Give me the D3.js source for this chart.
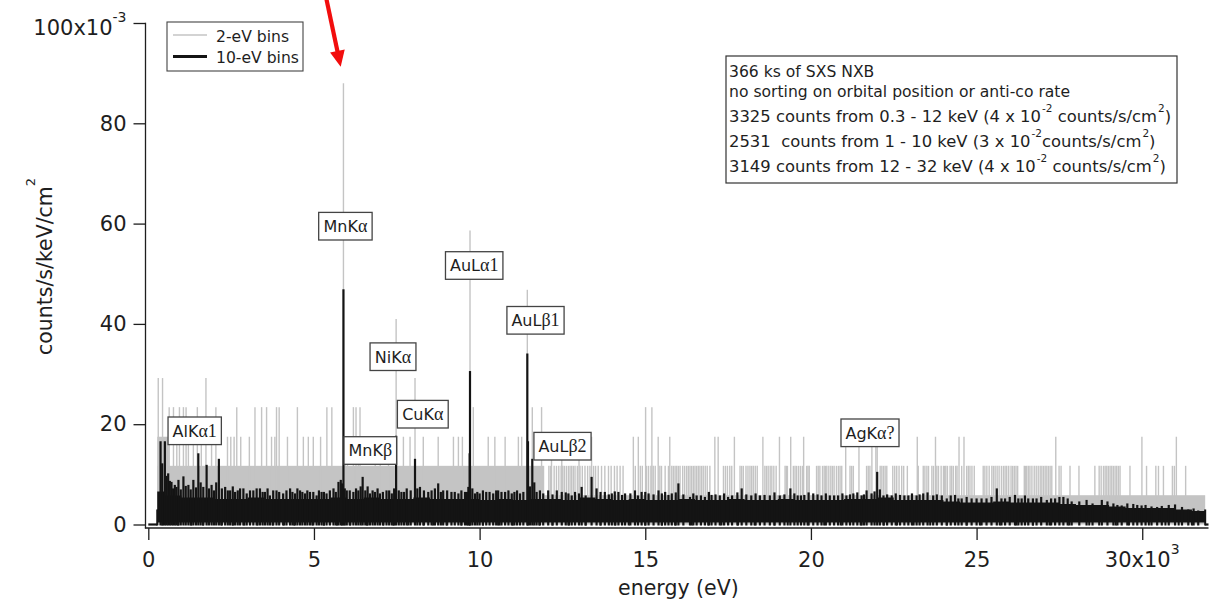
<!DOCTYPE html>
<html><head><meta charset="utf-8">
<script src="https://cdn.jsdelivr.net/npm/d3@7"></script>
<style>
html,body{margin:0;padding:0;background:#fff;}
svg{display:block;font-family:"DejaVu Sans",sans-serif;}
text{white-space:pre;}
</style></head><body>
<svg id="chart" width="1215" height="603"></svg>
<script>
// ================= DATA (energy in keV, rate in 1e-3 counts/s/keV/cm2) =================
const xTicks = [0, 5, 10, 15, 20, 25, 30];
const yTicks = [0, 20, 40, 60, 80, 100];
const seriesNames = ["2-eV bins", "10-eV bins"];

// 2-eV bins: continuum levels (start keV, end keV, rate)
const grayBands = [[0.27, 0.62, 17.5], [0.27, 11.95, 11.7], [11.95, 31.9, 5.84]];
// 2-eV bins rising above the continuum (keV, rate)
const graySpikes = [
 [0.30,29.2],[0.43,29.2],[0.63,23.4],[0.76,23.4],[0.86,17.5],[0.94,23.4],[1.06,23.4],[1.14,23.4],[1.21,17.5],[1.36,17.5],
 [1.48,23.4],[1.60,17.5],[1.74,29.2],[1.91,17.5],[2.04,23.4],[2.39,17.5],[2.49,17.5],[2.59,17.5],[2.67,23.4],[2.79,17.5],
 [3.05,17.5],[3.22,23.4],[3.42,23.4],[3.57,23.4],[3.72,17.5],[3.82,17.5],[3.87,23.4],[3.95,23.4],[4.20,17.5],[4.50,23.4],
 [4.68,17.5],[4.83,17.5],[4.98,17.5],[5.20,17.5],[5.39,23.4],[5.54,23.4],[5.89,88.0],[5.94,17.5],[6.01,17.5],[6.19,23.4],
 [6.27,23.4],[6.34,17.5],[6.39,23.4],[6.85,17.5],[7.00,17.5],[7.25,17.5],[7.48,41.0],[7.70,17.5],[7.90,17.5],[8.05,29.2],
 [8.30,17.5],[8.75,17.5],[9.21,17.5],[9.36,17.5],[9.48,17.5],[9.71,58.6],[9.81,23.4],[10.26,17.5],[10.46,17.5],[10.77,17.5],
 [11.17,17.5],[11.27,17.5],[11.44,46.8],[11.59,23.4],[11.87,23.4],
 [12.17,17.5],[12.48,17.5],[13.00,17.5],[13.38,17.5],[14.64,17.5],[14.79,17.5],[15.01,23.4],[15.20,23.4],[15.39,17.5],[15.74,17.5],
 [17.10,17.5],[17.20,17.5],[17.69,17.5],[18.55,17.5],[19.05,17.5],[19.39,17.5],[19.78,17.5],[21.05,17.5],[21.45,17.5],[21.84,17.5],
 [21.96,17.5],[22.00,17.5],[23.21,17.5],[23.76,17.5],[24.47,17.5],[24.62,17.5],[27.39,17.5],[29.99,17.5],[31.03,17.5]
];
// 2-eV bins at two counts (rate 11.7) above 12 keV
const grayTwoCountRate = 11.7;
const grayTwoCountE = [
 12.09,12.14,12.25,12.32,12.39,12.46,12.51,12.56,12.62,12.68,12.73,12.78,12.83,12.88,12.95,13.03,13.10,13.18,13.26,13.33,
 13.44,13.50,13.58,13.68,13.78,13.89,13.97,14.07,14.15,14.24,14.33,14.70,14.85,14.91,15.04,15.10,15.17,15.24,15.30,15.44,
 15.49,15.60,15.70,15.80,15.85,15.90,15.95,16.00,16.05,16.13,16.19,16.25,16.30,16.35,16.40,16.45,16.50,16.55,16.60,16.65,
 16.70,16.75,16.81,16.87,16.95,17.36,17.42,17.48,17.55,17.61,17.86,17.91,17.96,18.04,18.10,18.16,18.21,18.26,18.32,18.38,
 18.61,18.66,18.71,18.77,18.82,18.88,18.95,19.22,19.26,19.29,19.47,19.52,19.57,19.63,19.69,19.75,19.87,19.91,19.95,20.17,
 20.22,20.27,20.35,20.40,20.44,20.48,20.54,20.60,20.65,20.70,20.77,20.83,20.88,20.93,21.18,21.23,21.28,21.68,21.73,21.78,
 22.09,22.14,22.19,22.24,22.29,22.47,22.53,22.59,22.66,22.74,22.80,22.91,23.24,23.39,23.44,23.50,23.55,23.65,23.70,23.80,
 23.85,23.93,24.00,24.03,24.07,24.12,24.20,24.25,24.30,24.37,24.41,24.55,24.70,24.75,24.80,24.86,24.93,25.20,25.25,25.31,
 25.38,25.46,25.51,25.56,25.62,25.68,25.75,25.81,25.86,25.91,25.97,26.04,26.09,26.14,26.19,26.24,26.44,26.48,26.51,26.56,
 26.61,26.67,26.74,26.80,26.86,26.92,26.97,27.02,27.07,27.12,27.17,27.22,27.27,27.49,27.55,27.82,28.09,28.57,28.70,28.76,
 28.83,28.88,28.93,28.98,29.03,29.08,29.13,29.18,29.23,29.28,29.33,29.63,30.13,30.41,30.49,30.64,30.91,30.97,31.31
];

// 10-eV bins: typical floor and upper envelope of the dense band, per 0.5 keV
const blackStart = 0.27, blackEnd = 31.9, blackFloor = 0.6;
const blackBandTop = [
 6.4,5.6,5.2,5.2,4.9,4.9,5.2,4.9,4.9,4.9, 4.9,5.2,4.9,5.2,4.9,4.9,5.2,4.9,4.9,4.9,
 4.7,4.9,4.7,4.9,4.9,4.7,5.2,4.9,4.7,4.9, 4.7,4.7,4.9,4.7,4.7,4.9,4.7,4.7,4.9,4.7,
 4.7,4.7,4.9,4.9,5.2,4.7,4.7,4.7,4.4,4.2, 4.2,4.4,4.2,4.2,4.2,3.9,3.7,3.7,3.4,3.1,
 3.1,3.1,2.8,2.5
];
// 10-eV bins rising above the band (keV, rate)
const blackSpikes = [
 [0.37,16.4],[0.42,12.0],[0.50,16.4],[0.55,9.5],[0.60,10.0],[0.65,8.5],[0.70,8.3],[0.75,7.0],[0.80,7.7],[0.85,7.3],
 [0.91,8.7],[0.98,6.8],[1.06,9.4],[1.13,7.5],[1.21,7.7],[1.28,6.8],[1.36,8.7],[1.44,7.2],[1.51,14.0],[1.58,8.2],
 [1.66,7.3],[1.76,11.7],[1.83,7.0],[1.91,7.7],[1.98,6.6],[2.05,8.2],[2.13,12.9],[2.22,7.0],[2.32,7.3],[2.40,6.6],
 [2.47,6.6],[2.55,7.4],[2.62,6.3],[2.70,6.6],[2.77,7.0],[2.87,7.0],[2.97,6.0],[3.07,6.6],[3.17,6.6],[3.27,7.0],
 [3.37,7.0],[3.45,6.3],[3.52,6.3],[3.60,7.0],[3.67,5.6],[3.77,6.6],[3.87,6.6],[3.95,6.3],[4.07,6.0],[4.17,6.6],
 [4.28,7.0],[4.35,6.3],[4.43,6.0],[4.50,7.0],[4.58,6.6],[4.65,6.3],[4.73,6.0],[4.80,6.6],[4.88,6.3],[4.98,6.3],
 [5.08,5.6],[5.15,6.6],[5.23,6.3],[5.30,6.3],[5.38,6.0],[5.48,6.6],[5.59,7.0],[5.66,6.3],[5.74,8.3],[5.81,8.7],
 [5.85,8.0],[5.89,46.7],[5.93,7.0],[5.99,6.6],[6.08,6.6],[6.19,6.3],[6.27,7.0],[6.34,6.6],[6.41,7.4],[6.47,9.3],
 [6.55,6.6],[6.62,7.4],[6.69,6.0],[6.77,6.6],[6.84,6.3],[6.92,7.0],[6.99,6.0],[7.08,6.3],[7.19,6.6],[7.27,6.6],
 [7.35,6.0],[7.42,7.0],[7.48,17.5],[7.56,6.6],[7.64,6.3],[7.72,6.3],[7.80,7.0],[7.92,6.6],[8.05,12.9],[8.12,7.0],
 [8.20,7.3],[8.32,6.6],[8.45,6.3],[8.55,6.6],[8.65,7.0],[8.75,8.0],[8.83,6.3],[8.90,6.6],[9.02,6.6],[9.15,6.3],
 [9.25,6.3],[9.36,6.0],[9.45,6.6],[9.56,6.3],[9.62,6.3],[9.66,7.3],[9.70,14.0],[9.71,30.4],[9.78,7.0],[9.86,6.0],
 [9.93,6.3],[10.00,6.0],[10.10,6.6],[10.20,6.3],[10.30,6.3],[10.41,6.0],[10.50,6.6],[10.56,6.6],[10.66,6.3],[10.77,6.3],
 [10.87,6.6],[10.97,6.0],[11.05,6.3],[11.13,6.6],[11.22,6.0],[11.32,6.3],[11.44,33.9],[11.46,16.4],[11.52,7.4],[11.59,12.9],
 [11.65,8.2],[11.72,6.3],[11.82,6.6],[11.92,6.0],[12.07,6.6],[12.20,5.8],[12.33,6.6],[12.48,6.3],[12.60,6.2],[12.68,6.0],
 [12.78,5.6],[12.88,6.3],[13.00,6.0],[13.08,7.3],[13.20,5.6],[13.38,9.3],[13.53,7.0],[13.65,6.3],[13.78,6.3],[13.90,5.8],
 [13.99,6.0],[14.08,6.4],[14.19,6.3],[14.30,5.7],[14.39,6.0],[14.55,6.0],[14.69,6.6],[14.78,5.6],[14.89,6.3],[15.00,6.3],
 [15.10,6.0],[15.25,5.8],[15.40,6.6],[15.50,6.0],[15.60,6.3],[15.70,5.7],[15.80,6.0],[15.92,6.2],[16.00,8.0],[16.15,5.8],
 [16.35,5.3],[16.45,6.0],[16.55,5.6],[16.68,5.6],[16.80,5.3],[16.92,6.3],[17.00,5.7],[17.12,5.8],[17.25,5.6],[17.38,6.0],
 [17.50,5.3],[17.62,5.6],[17.78,6.2],[17.91,7.0],[18.05,5.8],[18.20,5.6],[18.33,6.0],[18.46,5.6],[18.60,5.7],[18.76,5.6],
 [18.90,6.2],[19.06,5.6],[19.20,5.8],[19.38,7.0],[19.50,6.0],[19.60,5.6],[19.70,5.6],[19.80,5.7],[19.93,6.2],[20.07,6.0],
 [20.20,5.8],[20.32,5.6],[20.45,6.0],[20.57,5.6],[20.70,5.6],[20.82,5.6],[20.95,6.0],[21.07,5.6],[21.18,5.8],[21.28,6.0],
 [21.40,6.2],[21.53,5.6],[21.60,5.8],[21.68,6.6],[21.83,6.0],[21.92,6.4],[22.00,10.3],[22.08,6.8],[22.19,5.6],[22.30,5.8],
 [22.44,5.6],[22.56,6.0],[22.69,5.7],[22.82,5.6],[22.94,5.6],[23.05,6.0],[23.19,5.6],[23.28,5.8],[23.39,6.0],[23.52,6.2],
 [23.69,5.6],[23.80,5.8],[23.95,5.6],[24.10,5.0],[24.22,5.6],[24.35,5.7],[24.45,5.0],[24.55,5.0],[24.70,5.3],[24.85,5.0],
 [25.00,5.0],[25.15,5.0],[25.30,5.0],[25.45,5.3],[25.61,7.0],[25.75,5.0],[25.86,5.0],[26.00,5.3],[26.16,5.7],[26.26,5.0],
 [26.36,5.0],[26.46,5.6],[26.56,5.0],[26.70,5.0],[26.81,5.0],[26.95,5.3],[27.12,4.7],[27.25,5.0],[27.37,5.0],[27.50,5.3],
 [27.62,5.3],[27.75,5.0],[27.87,4.4],[28.10,4.4],[28.32,4.7],[28.50,4.0],[28.78,4.7],[28.95,4.4],[29.13,4.0],[29.25,3.7],
 [29.38,3.6],[29.55,4.0],[29.73,3.9],[29.85,3.7],[29.98,3.6],[30.10,3.7],[30.28,3.4],[30.45,3.3],[30.59,3.5],[30.80,3.7],
 [30.99,3.8],[31.20,3.3],[31.39,2.8],[31.55,3.0],[31.69,2.6]
];
// 10-eV bins that drop to zero counts (keV)
const blackZeroE = [
 0.45,0.90,1.30,1.65,2.20,2.55,2.90,3.30,3.75,4.10,4.40,4.95,5.30,5.70,6.10,6.60,7.10,7.40,7.85,8.30,
 8.60,9.00,9.45,10.10,10.60,11.00,11.80,12.20,12.70,13.20,13.65,14.10,14.50,15.00,15.50,15.90,16.40,16.90,17.30,17.80,
 18.30,18.90,19.30,19.90,20.40,20.90,21.50,22.20,22.60,23.10,23.60,24.10,24.70,25.10,25.70,26.20,26.70,27.20,27.80,28.40,
 28.70,29.20,29.60,30.20,30.70,31.10,31.50
];

// Line identifications (name parts, energy keV)
const peakNames = [["MnK","α",""],["AuL","α","1"],["AuL","β","1"],["AuL","β","2"],["CuK","α",""],["NiK","α",""],["MnK","β",""],["AlK","α","1"],["AgK","α","?"]];
const peakEnergies = [5.89, 9.71, 11.44, 11.59, 8.05, 7.48, 6.49, 1.49, 22.1];

const noteLines = [
 [["366 ks of SXS NXB"]],
 [["no sorting on orbital position or anti-co rate"]],
 [["3325 counts from 0.3 - 12 keV (4 x 10"],["-2",1],[" counts/s/cm"],["2",1],[")"]],
 [["2531  counts from 1 - 10 keV (3 x 10"],["-2",1],["counts/s/cm"],["2",1],[")"]],
 [["3149 counts from 12 - 32 keV (4 x 10"],["-2",1],[" counts/s/cm"],["2",1],[")"]]
];

// ================= LAYOUT / STYLE =================
const GRAY = "#c4c4c4", BLACK = "#141414", INK = "#1e1e1e";
const labelCenters = [[345.4,226.2],[474.2,265.5],[535.5,320.3],[562.5,446.2],[422.8,414.2],[393,356.7],[370.3,450.5],[194.7,430.8],[870,432.8]];

const svg = d3.select("#chart");
const x = d3.scaleLinear().domain([0, 32]).range([148.3, 1208.5]);
const y = d3.scaleLinear().domain([0, 100]).range([524.5, 23]);

const plot = svg.append("g");

// ---- gray (2-eV) series ----
plot.selectAll("rect.gband").data(grayBands).join("rect").attr("class","gband")
  .attr("x", d => x(d[0])).attr("width", d => x(d[1]) - x(d[0]))
  .attr("y", d => y(d[2])).attr("height", d => y(0) - y(d[2]))
  .attr("fill", GRAY);
const grayAll = graySpikes.concat(grayTwoCountE.map(e => [e, grayTwoCountRate]));
plot.selectAll("line.gspike").data(grayAll).join("line").attr("class","gspike")
  .attr("x1", d => x(d[0])).attr("x2", d => x(d[0]))
  .attr("y1", y(0)).attr("y2", d => y(d[1]))
  .attr("stroke", GRAY).attr("stroke-width", 1.4);

// ---- black (10-eV) series ----
const bandPts = blackBandTop.map((v, i) => ({e: Math.max(i * 0.5, blackStart), v}));
bandPts.push({e: blackEnd, v: blackBandTop[blackBandTop.length - 1]});
const bandArea = d3.area().curve(d3.curveStepAfter)
  .x(d => x(d.e)).y0(y(blackFloor) + 1).y1(d => y(d.v) - 1);
plot.append("path").datum(bandPts).attr("d", bandArea).attr("fill", BLACK);

plot.append("line").attr("x1", x(0)).attr("x2", x(blackStart)).attr("y1", y(0)).attr("y2", y(0))
  .attr("stroke", BLACK).attr("stroke-width", 2.2);
plot.append("line").attr("x1", x(blackEnd)).attr("x2", x(32)).attr("y1", y(0)).attr("y2", y(0))
  .attr("stroke", BLACK).attr("stroke-width", 2.2);
plot.selectAll("line.bzero").data(blackZeroE).join("line").attr("class","bzero")
  .attr("x1", d => x(d)).attr("x2", d => x(d))
  .attr("y1", y(0) + 1).attr("y2", y(blackFloor))
  .attr("stroke", BLACK).attr("stroke-width", 2);
[blackStart, blackEnd].forEach(e => plot.append("line").attr("x1", x(e)).attr("x2", x(e))
  .attr("y1", y(0) + 1).attr("y2", y(3)).attr("stroke", BLACK).attr("stroke-width", 2));
plot.selectAll("line.bspike").data(blackSpikes).join("line").attr("class","bspike")
  .attr("x1", d => x(d[0])).attr("x2", d => x(d[0]))
  .attr("y1", y(0) + 1).attr("y2", d => y(d[1]) - 1)
  .attr("stroke", BLACK).attr("stroke-width", 2.2);

// ---- axes ----
const yAxis = d3.axisLeft(y).tickValues(yTicks).tickSize(12).tickPadding(7)
  .tickFormat(d => d === 100 ? "" : d);
const gy = svg.append("g").attr("transform", "translate(145.5,0)").call(yAxis);
gy.select(".domain").remove();
gy.selectAll(".tick line").attr("stroke", INK).attr("stroke-width", 1.3);
gy.selectAll(".tick text").attr("font-size", 21).attr("fill", INK).attr("font-family", "DejaVu Sans");
const t100 = svg.append("text").attr("x", 126.5).attr("y", 34.5).attr("text-anchor", "end")
  .attr("font-size", 21).attr("fill", INK);
t100.append("tspan").text("100x10");
t100.append("tspan").attr("font-size", 14).attr("dy", -13).text("-3");

const xAxis = d3.axisBottom(x).tickValues(xTicks).tickSize(12).tickPadding(12)
  .tickFormat(d => d === 30 ? "" : d);
const gx = svg.append("g").attr("transform", "translate(0,528)").call(xAxis);
gx.select(".domain").remove();
gx.selectAll(".tick line").attr("stroke", INK).attr("stroke-width", 1.3);
gx.selectAll(".tick text").attr("font-size", 21).attr("fill", INK).attr("font-family", "DejaVu Sans");
const t30 = svg.append("text").attr("x", x(30)).attr("y", 567).attr("text-anchor", "middle")
  .attr("font-size", 21).attr("fill", INK);
t30.append("tspan").text("30x10");
t30.append("tspan").attr("font-size", 14).attr("dy", -13).text("3");

svg.append("line").attr("x1", 145.5).attr("x2", 145.5).attr("y1", 22.7).attr("y2", 528.6)
  .attr("stroke", INK).attr("stroke-width", 1.3);
svg.append("line").attr("x1", 144.9).attr("x2", x(32)).attr("y1", 528).attr("y2", 528)
  .attr("stroke", INK).attr("stroke-width", 1.3);

// axis titles
svg.append("text").attr("x", x(16)).attr("y", 595).attr("text-anchor", "middle")
  .attr("font-size", 20.5).attr("fill", INK).text("energy (eV)");
const yt = svg.append("text").attr("transform", "translate(51.5,266.5) rotate(-90)")
  .attr("text-anchor", "middle").attr("font-size", 20.5).attr("fill", INK);
yt.append("tspan").text("counts/s/keV/cm");
yt.append("tspan").attr("font-size", 13).attr("dy", -17).text("2");

// ---- legend ----
const lg = svg.append("g");
lg.append("rect").attr("x", 167).attr("y", 22).attr("width", 136).attr("height", 49)
  .attr("fill", "#fff").attr("stroke", "#444").attr("stroke-width", 1.1);
lg.append("line").attr("x1", 173).attr("x2", 207).attr("y1", 35).attr("y2", 35).attr("stroke", GRAY).attr("stroke-width", 1.3);
lg.append("line").attr("x1", 173).attr("x2", 207).attr("y1", 56.5).attr("y2", 56.5).attr("stroke", BLACK).attr("stroke-width", 3);
lg.append("text").attr("x", 216).attr("y", 41.5).attr("font-size", 15.6).attr("fill", INK).text(seriesNames[0]);
lg.append("text").attr("x", 216).attr("y", 63).attr("font-size", 15.6).attr("fill", INK).text(seriesNames[1]);

// ---- note box ----
svg.append("rect").attr("x", 726).attr("y", 56).attr("width", 451).attr("height", 127)
  .attr("fill", "#fff").attr("stroke", "#333").attr("stroke-width", 1.2);
const noteBase = [76.5, 97, 121.5, 147, 172];
noteLines.forEach((parts, i) => {
  const fs = i < 2 ? 15.6 : 16.4;
  const t = svg.append("text").attr("x", 729).attr("y", noteBase[i]).attr("font-size", fs).attr("fill", INK);
  let raised = false;
  parts.forEach(p => {
    const ts = t.append("tspan").text(p[0]);
    if (p[1]) { ts.attr("font-size", 10.5).attr("dx", 1).attr("dy", raised ? 0 : -10); raised = true; }
    else if (raised) { ts.attr("dy", 10); raised = false; }
  });
});

// ---- peak labels ----
peakNames.forEach((n, i) => {
  const [cx, cy] = labelCenters[i];
  const g = svg.append("g");
  const r = g.append("rect");
  const t = g.append("text").attr("x", cx).attr("y", cy + 5.8).attr("text-anchor", "middle")
    .attr("font-size", 16).attr("fill", INK);
  t.append("tspan").text(n[0]);
  t.append("tspan").attr("font-family", "Liberation Serif, DejaVu Serif, serif").attr("font-size", 18).text(n[1] + n[2]);
  const bb = t.node().getBBox();
  r.attr("x", cx - bb.width / 2 - 4.5).attr("y", cy - 13.8).attr("width", bb.width + 9).attr("height", 27.6)
   .attr("fill", "#fff").attr("stroke", "#444").attr("stroke-width", 1.3);
  void peakEnergies[i];
});

// ---- red arrow pointing at MnKα ----
const tip = [340.7, 66.7], tail = [326.2, -2];
const dx = tip[0] - tail[0], dy = tip[1] - tail[1], L = Math.hypot(dx, dy);
const ux = dx / L, uy = dy / L, hb = [tip[0] - 16 * ux, tip[1] - 16 * uy];
svg.append("line").attr("x1", tail[0]).attr("y1", tail[1]).attr("x2", hb[0] + 2 * ux).attr("y2", hb[1] + 2 * uy)
  .attr("stroke", "#f20d0d").attr("stroke-width", 4.2);
svg.append("path").attr("d", d3.line()([tip, [hb[0] - uy * 7.5, hb[1] + ux * 7.5], [hb[0] + uy * 7.5, hb[1] - ux * 7.5]]) + "Z")
  .attr("fill", "#f20d0d");
</script>
</body></html>
